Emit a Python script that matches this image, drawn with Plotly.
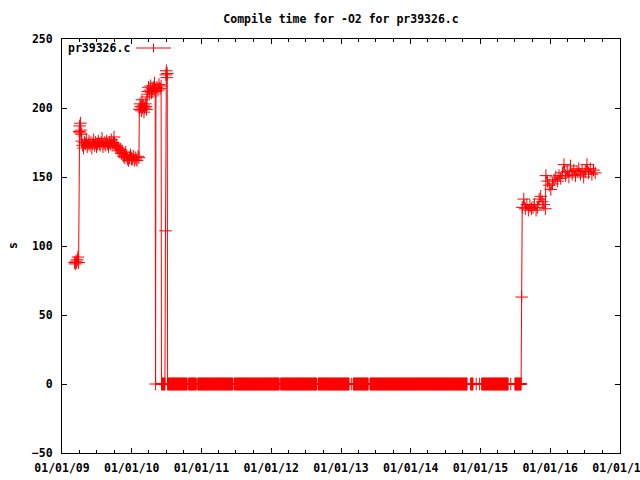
import pandas as pd
import plotly.graph_objects as go

# ---------------- data ----------------
# non-zero measurement runs: (first date, last date) + values in order
seg_a_span = ("2009-03-08", "2009-03-29")
seg_a_vals = [88, 87, 89, 88, 90, 92, 88]

seg_b1_span = ("2009-04-01", "2009-04-12")
seg_b1_vals = [183, 187, 182, 189, 184, 181]

seg_b2_span = ("2009-04-14", "2009-10-20")
seg_b2_vals = [176, 173, 171, 175, 174, 177, 172, 174, 176, 173,
               175, 171, 174, 177, 173, 175, 172, 174, 176, 174,
               173, 175, 178, 172, 174, 175, 173, 176, 174, 172,
               175, 174, 177, 173, 175, 179, 174, 172, 173, 171]

seg_b3_span = ("2009-10-22", "2009-11-24")
seg_b3_vals = [171, 169, 170, 167, 168, 165, 166]

seg_b4_span = ("2009-11-26", "2010-02-08")
seg_b4_vals = [164, 168, 165, 163, 162, 164, 166, 163,
               163, 165, 162, 164, 163, 162, 165, 164]

seg_c1_span = ("2010-02-10", "2010-03-20")
seg_c1_vals = [199, 203, 201, 198, 206, 200, 202, 197, 200, 203, 201, 199]

seg_c2_span = ("2010-03-22", "2010-05-04")
seg_c2_vals = [208, 212, 215, 210, 213, 216, 211, 214, 212, 215, 218, 213]

seg_c2b_span = ("2010-05-08", "2010-06-04")
seg_c2b_vals = [212, 215, 213, 217, 214, 216]

seg_c3_span = ("2010-06-29", "2010-07-06")
seg_c3_vals = [224, 227, 222, 225]

seg_d_span = ("2015-08-08", "2015-12-07")
seg_d_vals = [128, 134, 127, 130, 126, 129, 127, 128, 130,
              126, 128, 134, 136, 132, 130, 127]

seg_e_span = ("2015-12-10", "2016-08-24")
seg_e_vals = [151, 147, 144, 141, 145, 148, 150, 147, 151, 149,
              153, 159, 151, 154, 150, 158, 152, 155, 151, 154,
              156, 152, 155, 150, 154, 159, 153, 156, 152, 155, 153]

# isolated single measurements
single_dates = ["2010-05-06", "2010-06-27", "2013-02-24", "2014-12-10",
                "2014-12-28", "2015-06-09", "2015-08-05"]
single_vals = [0, 111, 0, 0, 0, 0, 63]

# runs of measurements that were 0 s (first date, last date), sampled every 2 days
zero_runs = [("2010-06-06", "2010-06-25"),
             ("2010-07-08", "2010-10-18"),
             ("2010-10-26", "2010-12-06"),
             ("2010-12-13", "2011-06-13"),
             ("2011-06-21", "2012-02-12"),
             ("2012-02-20", "2012-08-26"),
             ("2012-09-03", "2013-02-12"),
             ("2013-03-06", "2013-05-23"),
             ("2013-06-02", "2014-10-23"),
             ("2014-11-11", "2014-11-24"),
             ("2015-01-08", "2015-05-27"),
             ("2015-07-01", "2015-08-02")]
zero_value = 0

y_ticks = [-50, 0, 50, 100, 150, 200, 250]

# ---------------- assemble ----------------
segments = [(seg_a_span, seg_a_vals), (seg_b1_span, seg_b1_vals),
            (seg_b2_span, seg_b2_vals), (seg_b3_span, seg_b3_vals),
            (seg_b4_span, seg_b4_vals), (seg_c1_span, seg_c1_vals),
            (seg_c2_span, seg_c2_vals), (seg_c2b_span, seg_c2b_vals),
            (seg_c3_span, seg_c3_vals), (seg_d_span, seg_d_vals),
            (seg_e_span, seg_e_vals)]

frames = []
for (s, e), v in segments:
    frames.append(pd.DataFrame({"date": pd.date_range(s, e, periods=len(v)), "t": v}))
for s, e in zero_runs:
    d = pd.date_range(s, e, freq="2D")
    frames.append(pd.DataFrame({"date": d, "t": [zero_value] * len(d)}))
frames.append(pd.DataFrame({"date": pd.to_datetime(single_dates), "t": single_vals}))
df = pd.concat(frames).sort_values("date").reset_index(drop=True)

RED = "#ff0000"
FONT = "DejaVu Sans Mono"

fig = go.Figure()
fig.add_trace(go.Scatter(
    x=df["date"], y=df["t"], mode="lines+markers", name="pr39326.c",
    line=dict(color=RED, width=1),
    marker=dict(symbol="cross-thin", size=9, color=RED, line=dict(color=RED, width=1)),
    showlegend=False))

axis_font = dict(family=FONT, size=11.5, color="black", weight="bold")

fig.update_xaxes(
    type="date", range=["2009-01-01", "2017-01-01"],
    tick0="2009-01-01", dtick="M12", tickformat="%m/%d/%y",
    ticks="inside", ticklen=5, tickwidth=1, tickcolor="black",
    showline=True, linecolor="black", linewidth=1, mirror="ticks",
    showgrid=False, zeroline=False, tickfont=axis_font, automargin=False,
    ticklabeloverflow="allow", ticklabelstandoff=4,
    minor=dict(dtick="M3", ticks="inside", ticklen=3, tickcolor="black", showgrid=False))

fig.update_yaxes(
    range=[-50, 250], tickvals=y_ticks,
    ticks="inside", ticklen=5, tickwidth=1, tickcolor="black",
    showline=True, linecolor="black", linewidth=1, mirror="ticks",
    showgrid=False, zeroline=False, tickfont=axis_font, ticklabelstandoff=6,
    automargin=False)

L, R, T, B = 62, 20, 39, 27
pw, ph = 640 - L - R, 480 - T - B

def px(xp):
    return (xp - L) / pw

def py(yp):
    return (480 - B - yp) / ph

fig.update_layout(
    width=640, height=480,
    margin=dict(l=L, r=R, t=T, b=B, pad=0, autoexpand=False),
    paper_bgcolor="white", plot_bgcolor="white",
    font=dict(family=FONT, color="black"),
    title=dict(text="Compile time for -O2 for pr39326.c", x=0.5, xref="paper",
               xanchor="center", y=1 - 19 / 480, yref="container", yanchor="middle",
               font=dict(family=FONT, size=11.5, color="black", weight="bold")),
    annotations=[
        dict(text="s", xref="paper", yref="paper", x=px(13), y=py(246), textangle=-90,
             showarrow=False, xanchor="center", yanchor="middle",
             font=dict(family=FONT, size=11.5, color="black", weight="bold")),
        dict(text="pr39326.c", xref="paper", yref="paper", x=px(66), y=py(48),
             showarrow=False, xanchor="left", yanchor="middle",
             font=dict(family=FONT, size=11.5, color="black", weight="bold")),
    ],
    shapes=[
        dict(type="line", xref="paper", yref="paper", x0=px(136), x1=px(171),
             y0=py(48), y1=py(48), line=dict(color=RED, width=1)),
        dict(type="line", xref="paper", yref="paper", x0=px(153.5), x1=px(153.5),
             y0=py(43.5), y1=py(52.5), line=dict(color=RED, width=1)),
    ],
)

fig.write_html("out.html", config={"displayModeBar": False},
               post_script="document.body.style.margin='0';document.body.style.padding='0';")
